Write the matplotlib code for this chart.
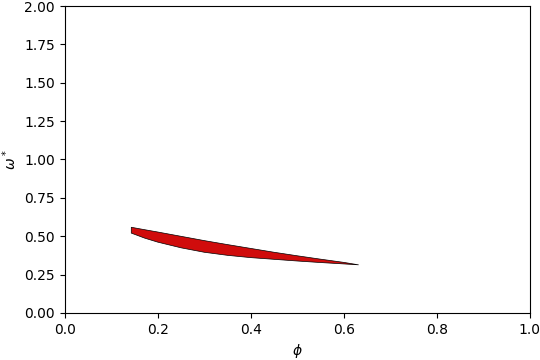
import matplotlib
matplotlib.use("Agg")
import matplotlib.pyplot as plt
import numpy as np

phi = [0.143, 0.172, 0.2, 0.25, 0.3, 0.35, 0.4, 0.45, 0.5, 0.55, 0.6, 0.632]
upper = [0.558, 0.542, 0.527, 0.499, 0.471, 0.445, 0.420, 0.395, 0.372, 0.350, 0.329, 0.313]
lower = [0.520, 0.487, 0.461, 0.424, 0.395, 0.375, 0.360, 0.349, 0.338, 0.328, 0.319, 0.313]

fig = plt.figure(figsize=(5.4, 3.6), dpi=100)
ax = fig.add_axes([0.12, 0.131, 0.861, 0.852])

xs = list(phi) + list(phi[::-1])
ys = list(upper) + list(lower[::-1])
ax.fill(xs, ys, facecolor="#d00c0c", edgecolor="black", linewidth=0.5)

ax.set_xlim(0, 1)
ax.set_ylim(0, 2)
ax.set_yticks(np.arange(0, 2.01, 0.25))
ax.set_xlabel(r"$\phi$")
ax.set_ylabel(r"$\omega^*$")

fig.savefig("out.png", dpi=100)
